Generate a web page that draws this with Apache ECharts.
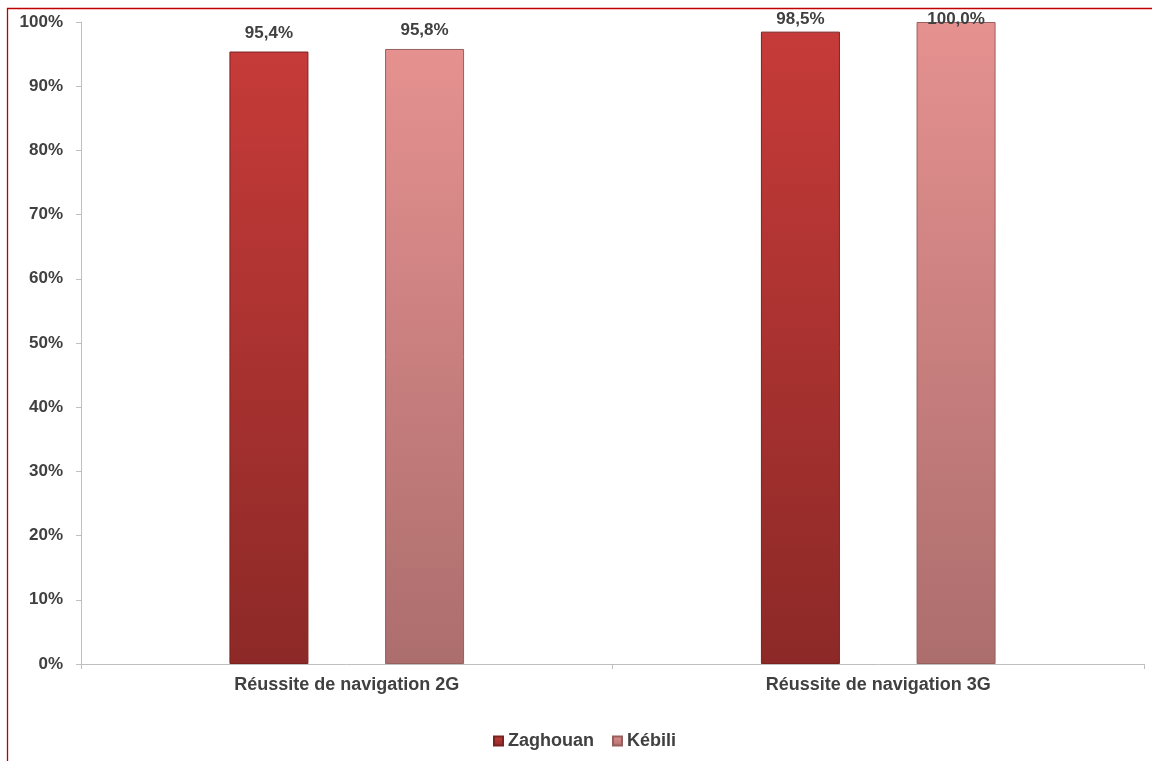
<!DOCTYPE html>
<html><head><meta charset="utf-8">
<script src="https://cdn.jsdelivr.net/npm/echarts@6/dist/echarts.min.js"></script>
<style>html,body{margin:0;padding:0;background:#fff}#c{width:1152px;height:761px}</style>
</head><body><div id="c"></div>
<script>
const categories = ['Réussite de navigation 2G', 'Réussite de navigation 3G'];
const zaghouan = [95.4, 98.5];
const kebili = [95.8, 100.0];
const yTicks = [0,10,20,30,40,50,60,70,80,90,100];

const chart = echarts.init(document.getElementById('c'));
const fmt = v => v.toFixed(1).replace('.', ',') + '%';
const grad = (a,b) => new echarts.graphic.LinearGradient(0,0,0,1,[{offset:0,color:a},{offset:1,color:b}]);
const FONT = 'Liberation Sans';
const lbl = {show:true,position:'top',formatter:p=>fmt(p.value),fontFamily:FONT,fontWeight:'bold',fontSize:17,color:'#404040',distance:10};
chart.setOption({
  animation:false,
  backgroundColor:'#fff',
  graphic:[{type:'rect',shape:{x:7.5,y:8.5,width:1160,height:800},style:{fill:'none',stroke:'#c00000',lineWidth:1.3},z:-1}],
  grid:{left:81,right:8,top:22,bottom:97,containLabel:false},
  legend:{top:727,left:488,itemWidth:9,itemHeight:9,itemGap:18,icon:'rect',
    textStyle:{fontFamily:FONT,fontWeight:'bold',fontSize:18,color:'#404040'},
    data:['Zaghouan','Kébili']},
  xAxis:{type:'category',data:categories,
    axisLine:{lineStyle:{color:'#bfbfbf'}},axisTick:{show:true,lineStyle:{color:'#bfbfbf'},length:5},
    axisLabel:{fontFamily:FONT,fontWeight:'bold',fontSize:18,color:'#404040',margin:12}},
  yAxis:{type:'value',min:0,max:100,interval:10,
    axisLine:{show:true,lineStyle:{color:'#bfbfbf'}},axisTick:{show:true,lineStyle:{color:'#bfbfbf'},length:5},
    splitLine:{show:false},
    axisLabel:{formatter:v=>yTicks.includes(v)?v+'%':'',fontFamily:FONT,fontWeight:'bold',fontSize:17,color:'#404040',margin:18}},
  labelLayout: p => ({dy: Math.max(0, 11 - p.labelRect.y)}),
  series:[
    {name:'Zaghouan',type:'bar',data:zaghouan,barWidth:79,barGap:'97%',
     itemStyle:{color:grad('#c63b39','#8c2927'),borderColor:'#7a2220',borderWidth:1},
     label:lbl},
    {name:'Kébili',type:'bar',data:kebili,barWidth:79,
     itemStyle:{color:grad('#e59190','#ac6e6d'),borderColor:'#96605f',borderWidth:1},
     label:lbl}
  ]
});
</script></body></html>
